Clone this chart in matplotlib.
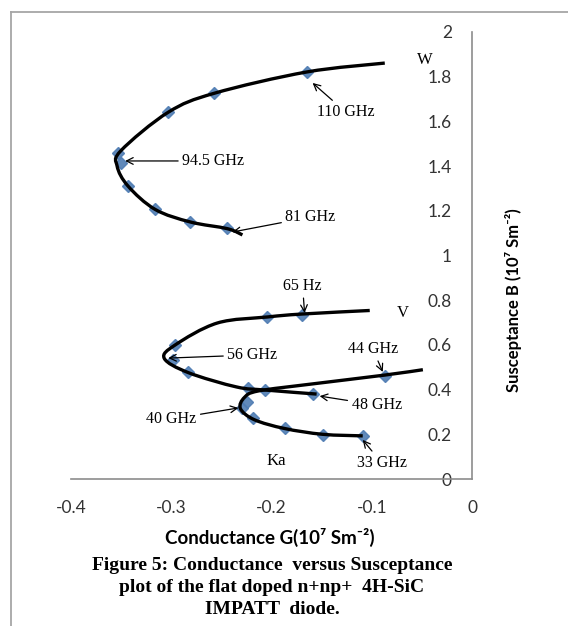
"""
Conductance vs Susceptance (flat doped n+np+ 4H-SiC IMPATT)
"""

import matplotlib
matplotlib.use("Agg")
import numpy as np
import matplotlib.pyplot as plt
from matplotlib.path import Path
from matplotlib.patches import PathPatch
from matplotlib.lines import Line2D

############################## data ##############################
# W band markers (81 GHz -> 110 GHz)
g_w = [-0.244, -0.281, -0.316, -0.343, -0.350, -0.353, -0.303, -0.257, -0.165]
b_w = [1.124, 1.152, 1.206, 1.310, 1.415, 1.460, 1.641, 1.726, 1.821]
# W band drawn curve
g_w_line = [-0.229, -0.244, -0.281, -0.316, -0.343, -0.354, -0.350, -0.303, -0.257, -0.165, -0.087]
b_w_line = [1.092, 1.120, 1.150, 1.206, 1.310, 1.400, 1.470, 1.641, 1.726, 1.821, 1.861]

# V band markers (48 GHz -> 65 GHz)
g_v = [-0.159, -0.206, -0.223, -0.283, -0.298, -0.296, -0.204, -0.170]
b_v = [0.381, 0.400, 0.408, 0.480, 0.534, 0.600, 0.726, 0.735]
g_v_line = [-0.155, -0.206, -0.235, -0.283, -0.307, -0.296, -0.254, -0.204, -0.170, -0.102]
b_v_line = [0.380, 0.398, 0.412, 0.476, 0.540, 0.600, 0.698, 0.725, 0.738, 0.754]

# Ka band markers (33 GHz -> 44 GHz)
g_ka = [-0.109, -0.149, -0.187, -0.218, -0.229, -0.224, -0.087]
b_ka = [0.193, 0.199, 0.229, 0.274, 0.318, 0.345, 0.460]
g_ka_line = [-0.109, -0.149, -0.187, -0.217, -0.231, -0.227, -0.213, -0.160, -0.087, -0.049]
b_ka_line = [0.193, 0.200, 0.226, 0.265, 0.315, 0.365, 0.394, 0.425, 0.465, 0.489]

x_ticks = [-0.4, -0.3, -0.2, -0.1, 0]
x_tick_labels = ["-0.4", "-0.3", "-0.2", "-0.1", "0"]
y_ticks = [0, 0.2, 0.4, 0.6, 0.8, 1, 1.2, 1.4, 1.6, 1.8, 2]
y_tick_labels = ["0", "0.2", "0.4", "0.6", "0.8", "1", "1.2", "1.4", "1.6", "1.8", "2"]

W, H = 568, 626
MARKER_COLOR = "#4f7cb3"
SERIF = ["Liberation Serif", "DejaVu Serif"]
SANS = ["Lato", "DejaVu Sans"]


def smooth_path(xs, ys):
    # excel-like smoothed line: catmull-rom converted to cubic bezier segments
    p = np.column_stack([xs, ys])
    p = np.vstack([p[0], p, p[-1]])
    verts = [p[1]]
    codes = [Path.MOVETO]
    for i in range(1, len(p) - 2):
        c1 = p[i] + (p[i + 1] - p[i - 1]) / 6.0
        c2 = p[i + 1] - (p[i + 2] - p[i]) / 6.0
        verts += [c1, c2, p[i + 1]]
        codes += [Path.CURVE4] * 3
    return Path(verts, codes)


fig = plt.figure(figsize=(W / 100, H / 100), dpi=100)
fig.patch.set_facecolor("white")

# axes placed to match the picture (pixel coords)
x0, x1, y_top, y_bot = 71, 472, 32, 479
ax = fig.add_axes([x0 / W, 1 - y_bot / H, (x1 - x0) / W, (y_bot - y_top) / H])
ax.set_xlim(-0.4, 0)
ax.set_ylim(0, 2)

for g, b in [(g_w, b_w), (g_v, b_v), (g_ka, b_ka)]:
    ax.plot(g, b, linestyle="none", marker="D", markersize=6.5,
            color=MARKER_COLOR, alpha=0.9, zorder=2, clip_on=False)

for g, b in [(g_w_line, b_w_line), (g_v_line, b_v_line), (g_ka_line, b_ka_line)]:
    ax.add_patch(PathPatch(smooth_path(g, b), facecolor="none", edgecolor="black",
                           lw=2.4, capstyle="butt", zorder=3, clip_on=False))

# spines: y axis at G=0 (right side), x axis at B=0
ax.spines["top"].set_visible(False)
ax.spines["left"].set_visible(False)
ax.spines["right"].set_color("#8c8c8c")
ax.spines["bottom"].set_color("#8c8c8c")
ax.spines["right"].set_linewidth(1.2)
ax.spines["bottom"].set_linewidth(1.2)

ax.set_xticks(x_ticks)
ax.set_xticklabels(x_tick_labels, family=SANS, fontsize=12.5, color="#333333")
ax.yaxis.tick_right()
ax.set_yticks(y_ticks)
ax.set_yticklabels(y_tick_labels, family=SANS, fontsize=12.5, color="#333333")
ax.tick_params(axis="x", length=0, pad=15)
ax.tick_params(axis="y", length=0, pad=-14.4)
for lbl in ax.get_yticklabels():
    lbl.set_horizontalalignment("right")

# annotations
ann = dict(family=SERIF, fontsize=11.5, ha="center", va="center")
arrow = dict(arrowstyle="->", lw=0.9, color="black", shrinkA=1, shrinkB=0, mutation_scale=12)
ax.annotate("110 GHz", xy=(-0.159, 1.772), xytext=(-0.126, 1.642), arrowprops=arrow, **ann)
ax.annotate("94.5 GHz", xy=(-0.346, 1.423), xytext=(-0.258, 1.423), arrowprops=arrow, **ann)
ax.annotate("81 GHz", xy=(-0.239, 1.105), xytext=(-0.161, 1.172), arrowprops=arrow, **ann)
ax.annotate("65 Hz", xy=(-0.167, 0.743), xytext=(-0.169, 0.864), arrowprops=arrow, **ann)
ax.annotate("56 GHz", xy=(-0.303, 0.541), xytext=(-0.219, 0.555), arrowprops=arrow, **ann)
ax.annotate("44 GHz", xy=(-0.089, 0.479), xytext=(-0.099, 0.582), arrowprops=arrow, **ann)
ax.annotate("48 GHz", xy=(-0.152, 0.371), xytext=(-0.095, 0.331), arrowprops=arrow, **ann)
ax.annotate("40 GHz", xy=(-0.233, 0.318), xytext=(-0.300, 0.268), arrowprops=arrow, **ann)
ax.annotate("33 GHz", xy=(-0.109, 0.175), xytext=(-0.090, 0.072), arrowprops=arrow, **ann)
ax.text(-0.047, 1.875, "W", family=SERIF, fontsize=12, ha="center", va="center")
ax.text(-0.069, 0.743, "V", family=SERIF, fontsize=12, ha="center", va="center")
ax.text(-0.195, 0.081, "Ka", family=SERIF, fontsize=12, ha="center", va="center")

# axis titles
fig.text(270 / W, 1 - 537 / H, "Conductance G(10⁷ Sm⁻²)", family=SANS, fontsize=13.5,
         fontweight="bold", ha="center", va="center")
fig.text(513 / W, 1 - 300 / H, "Susceptance B (10⁷ Sm⁻²)", family=SANS, fontsize=12,
         fontweight="bold", rotation=90, ha="center", va="center")

# caption
caption = ["Figure 5: Conductance  versus Susceptance",
           "plot of the flat doped n+np+  4H-SiC",
           "IMPATT  diode."]
for i, line in enumerate(caption):
    fig.text(272 / W, 1 - (566 + 21.5 * i) / H, line, family=SERIF, fontsize=14,
             fontweight="bold", ha="center", va="center")

# chart frame (gray border on left/top)
fig.add_artist(Line2D([11 / W, 11 / W], [0, 1 - 12 / H], color="#a6a6a6", lw=1.3))
fig.add_artist(Line2D([11 / W, 1], [1 - 12 / H, 1 - 12 / H], color="#a6a6a6", lw=1.3))

fig.savefig("out.png", dpi=100)
